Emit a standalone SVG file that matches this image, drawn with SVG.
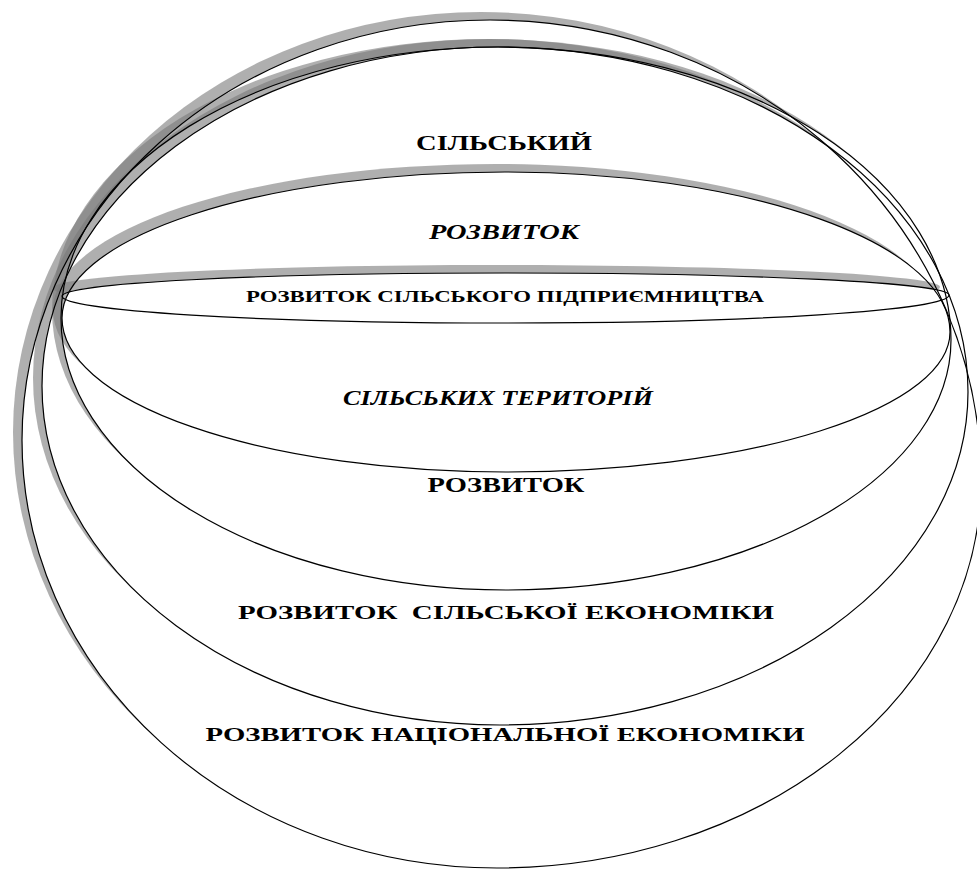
<svg xmlns="http://www.w3.org/2000/svg" width="977" height="870" viewBox="0 0 977 870">
<style>
.ol{fill:none;stroke:#000;stroke-width:1.2}
.sh{fill:#7a7a7a;fill-opacity:0.6;stroke:none}
.t{font-family:"Liberation Serif","Times New Roman",serif;font-weight:bold;fill:#000;text-anchor:middle}
.i{font-style:italic}
</style>
<defs>
<path id="pA" d="M62,296 A443,23 0 0 1 505,273 A444,22 0 0 1 949,295 A444,28 0 0 1 505,323 A443,27 0 0 1 62,296 Z"/>
<path id="pB" d="M62,318 A443,146 0 0 1 505,172 A445,160 0 0 1 950,332 A444,140 0 0 1 506,472 A444,154 0 0 1 62,318 Z"/>
<path id="pC" d="M61,318 A437,271 0 0 1 498,47 A453,293 0 0 1 951,340 A445,250 0 0 1 506,590 A445,272 0 0 1 61,318 Z"/>
<path id="pD" d="M42,386 A456,339 0 0 1 498,47 A470,345 0 0 1 968,392 A468,333 0 0 1 500,725 A458,339 0 0 1 42,386 Z"/>
<path id="pE" d="M22,440 A468,420 0 0 1 490,20 A491,460 0 0 1 981,480 A484,388 0 0 1 497,868 A475,428 0 0 1 22,440 Z"/>
<mask id="mA" maskUnits="userSpaceOnUse" x="0" y="0" width="977" height="870"><rect width="977" height="870" fill="#fff"/><use href="#pA" fill="#000"/></mask>
<mask id="mB" maskUnits="userSpaceOnUse" x="0" y="0" width="977" height="870"><rect width="977" height="870" fill="#fff"/><use href="#pB" fill="#000"/></mask>
<mask id="mC" maskUnits="userSpaceOnUse" x="0" y="0" width="977" height="870"><rect width="977" height="870" fill="#fff"/><use href="#pC" fill="#000"/></mask>
<mask id="mD" maskUnits="userSpaceOnUse" x="0" y="0" width="977" height="870"><rect width="977" height="870" fill="#fff"/><use href="#pD" fill="#000"/></mask>
<mask id="mE" maskUnits="userSpaceOnUse" x="0" y="0" width="977" height="870"><rect width="977" height="870" fill="#fff"/><use href="#pE" fill="#000"/></mask>
</defs>
<rect width="977" height="870" fill="#fff"/>
<g id="shadows">
<g mask="url(#mE)"><use href="#pE" class="sh" transform="translate(-9,-8)"/></g>
<g mask="url(#mD)"><use href="#pD" class="sh" transform="translate(-9,-8)"/></g>
<g mask="url(#mC)"><use href="#pC" class="sh" transform="translate(-9,-8)"/></g>
<g mask="url(#mB)"><use href="#pB" class="sh" transform="translate(-9,-8)"/></g>
<g mask="url(#mA)"><use href="#pA" class="sh" transform="translate(-9,-8)"/></g>
</g>
<g id="national-economy">
<use href="#pE" class="ol"/>
<text class="t" x="505" y="741" font-size="19" textLength="599" lengthAdjust="spacingAndGlyphs">РОЗВИТОК НАЦІОНАЛЬНОЇ ЕКОНОМІКИ</text>
</g>
<g id="rural-economy">
<use href="#pD" class="ol"/>
<text class="t" x="506" y="619" font-size="19" textLength="536" lengthAdjust="spacingAndGlyphs" xml:space="preserve">РОЗВИТОК  СІЛЬСЬКОЇ ЕКОНОМІКИ</text>
</g>
<g id="rural-development">
<use href="#pC" class="ol"/>
<text class="t" x="504" y="150" font-size="20" textLength="176" lengthAdjust="spacingAndGlyphs">СІЛЬСЬКИЙ</text>
<text class="t" x="506" y="492" font-size="20" textLength="157" lengthAdjust="spacingAndGlyphs">РОЗВИТОК</text>
</g>
<g id="rural-territories">
<use href="#pB" class="ol"/>
<text class="t i" x="504" y="239" font-size="21" textLength="150" lengthAdjust="spacingAndGlyphs">РОЗВИТОК</text>
<text class="t i" x="498" y="405" font-size="21" textLength="310" lengthAdjust="spacingAndGlyphs">СІЛЬСЬКИХ ТЕРИТОРІЙ</text>
</g>
<g id="rural-entrepreneurship">
<use href="#pA" class="ol"/>
<text class="t" x="505" y="302" font-size="17" textLength="518" lengthAdjust="spacingAndGlyphs">РОЗВИТОК СІЛЬСЬКОГО ПІДПРИЄМНИЦТВА</text>
</g>
</svg>
